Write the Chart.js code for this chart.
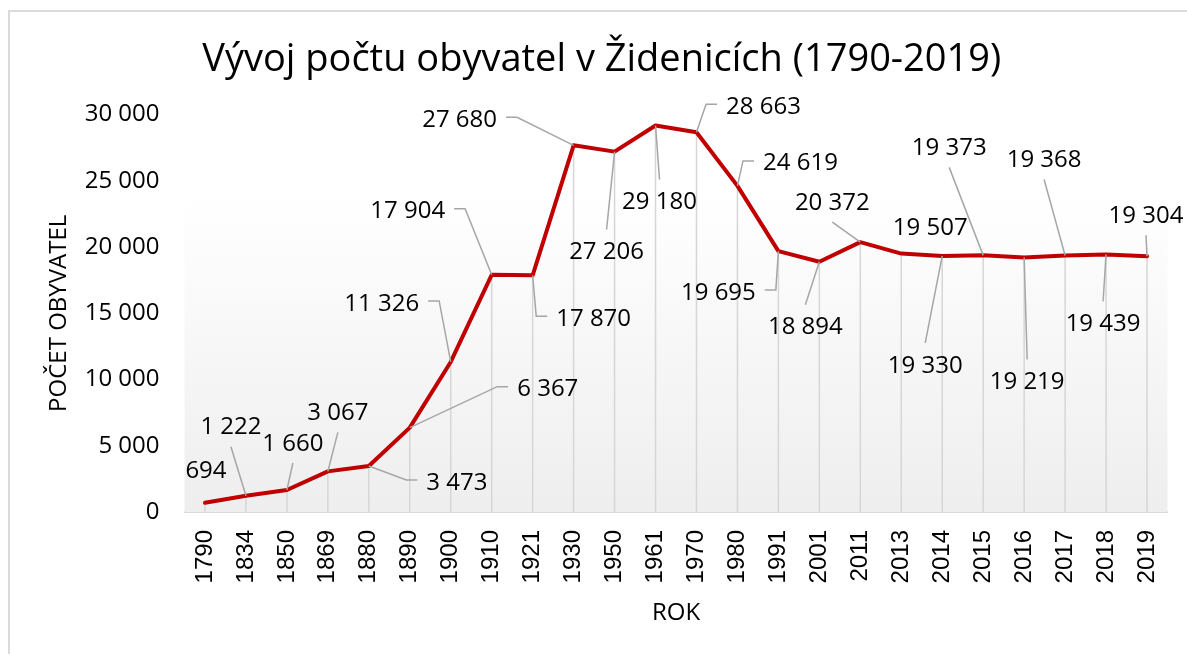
<!DOCTYPE html>
<html><head><meta charset="utf-8">
<script src="https://cdn.jsdelivr.net/npm/chart.js@4"></script>
<style>
html,body{margin:0;padding:0;background:#fff;overflow:hidden}
#wrap{position:relative;width:1187px;height:654px;overflow:hidden}
#frame{position:absolute;left:8px;top:10px;width:1300px;height:800px;border:2px solid #dadada;box-sizing:border-box}
canvas{position:absolute;left:0;top:0}
</style></head><body>
<div id="wrap"><div id="frame"></div><canvas id="c" width="1187" height="654"></canvas></div>
<script>
// ---- data ----
const titleText = 'Vývoj počtu obyvatel v Židenicích (1790-2019)';
const xTitle = 'ROK';
const yTitle = 'POČET OBYVATEL';
const years = ['1790','1834','1850','1869','1880','1890','1900','1910','1921','1930','1950','1961','1970','1980','1991','2001','2011','2013','2014','2015','2016','2017','2018','2019'];
const population = [694,1222,1660,3067,3473,6367,11326,17904,17870,27680,27206,29180,28663,24619,19695,18894,20372,19507,19330,19373,19219,19368,19439,19304];
const yMin = 0, yMax = 30000, yStep = 5000;
// label placement offsets (px, relative to each point) - styling only
const labelOffsets = [[1,-33],[-15,-70],[6,-48],[10,-60],[88,15],[138,-40],[-69,-60],[-84,-65],[61,42],[-114,-27],[-8,99],[4,75],[67,-27],[63,-24],[-60,40],[-14,64],[-28,-41],[29,-27],[-17,108],[-34,-109],[3,123],[-21,-97],[-3,68],[-1,-42]];

function fmt(v){ return String(v).replace(/\B(?=(\d{3})+(?!\d))/g, ' '); }

const FONT = 'Open Sans';
const bgPlugin = {
  id: 'bg',
  beforeDatasetsDraw(chart){
    const {ctx, chartArea:{left,top,right,bottom}} = chart;
    ctx.save();
    const g = ctx.createLinearGradient(0, top, 0, bottom);
    g.addColorStop(0, '#ffffff');
    g.addColorStop(0.2, '#ffffff');
    g.addColorStop(1, '#eeeeee');
    ctx.fillStyle = g;
    ctx.fillRect(left, top, right-left, bottom-top);
    // drop lines
    const meta = chart.getDatasetMeta(0);
    ctx.strokeStyle = '#d6d6d6';
    ctx.lineWidth = 1.5;
    meta.data.forEach(p => {
      ctx.beginPath();
      ctx.moveTo(p.x, p.y);
      ctx.lineTo(p.x, bottom);
      ctx.stroke();
    });
    ctx.restore();
  }
};
const labelPlugin = {
  id: 'lbls',
  afterDatasetsDraw(chart){
    const {ctx} = chart;
    const meta = chart.getDatasetMeta(0);
    const size = 24;
    ctx.save();
    ctx.font = size + 'px "' + FONT + '"';
    ctx.textAlign = 'center';
    ctx.textBaseline = 'alphabetic';
    meta.data.forEach((p, i) => {
      const txt = fmt(population[i]);
      const [dx, dy] = labelOffsets[i];
      const cx = p.x + dx, cy = p.y + dy;
      const w = ctx.measureText(txt).width;
      const hh = 9;
      ctx.strokeStyle = '#a6a6a6';
      ctx.lineWidth = 1.5;
      if (Math.abs(dx) > w/2 + 10) {
        const s = dx > 0 ? -1 : 1;
        const x1 = cx + s*(w/2 + 9), x2 = cx + s*(w/2 + 20), ly = cy - 1;
        ctx.beginPath();
        ctx.moveTo(x1, ly); ctx.lineTo(x2, ly); ctx.lineTo(p.x, p.y);
        ctx.stroke();
      } else {
        const sy = dy < 0 ? cy + hh + 12 : cy - hh - 12;
        if (Math.abs(p.y - sy) > 14 && Math.sign(p.y - sy) === Math.sign(-dy)) {
          ctx.beginPath();
          ctx.moveTo(cx, sy); ctx.lineTo(p.x, p.y);
          ctx.stroke();
        }
      }
      ctx.fillStyle = '#000';
      ctx.fillText(txt, cx, cy + 0.357*size);
    });
    ctx.restore();
  }
};

new Chart(document.getElementById('c'), {
  type: 'line',
  data: {
    labels: years,
    datasets: [{
      data: population,
      borderColor: '#C00000',
      borderWidth: 4,
      pointRadius: 0,
      tension: 0,
      fill: false,
      borderJoinStyle: 'round',
      borderCapStyle: 'round'
    }]
  },
  options: {
    responsive: false,
    devicePixelRatio: 1,
    animation: false,
    layout: { padding: { left: 36, right: 19.5, top: 0, bottom: 0 } },
    plugins: {
      legend: { display: false },
      tooltip: { enabled: false },
      title: {
        display: true, text: titleText, color: '#000',
        font: { family: FONT, size: 38, weight: 'normal' },
        padding: { top: 37, bottom: 32 }
      }
    },
    scales: {
      x: {
        type: 'category',
        offset: true,
        grid: { display: false, drawTicks: false },
        border: { display: true, color: '#d9d9d9', width: 2 },
        ticks: {
          autoSkip: false, minRotation: 90, maxRotation: 90, padding: 18,
          color: '#000', font: { family: 'Liberation Sans', size: 24 }
        },
        title: {
          display: true, text: xTitle, color: '#000',
          font: { family: FONT, size: 24 }, padding: { top: 0, bottom: 26 }
        },
        afterFit(s){ s.height = 142; s.paddingLeft = 0; s.paddingRight = 0; }
      },
      y: {
        min: yMin, max: yMax,
        grid: { display: false, drawTicks: false },
        border: { display: false },
        ticks: {
          stepSize: yStep, padding: 25, color: '#000',
          font: { family: FONT, size: 24 },
          callback: v => fmt(v)
        },
        title: {
          display: true, text: yTitle, color: '#000',
          font: { family: FONT, size: 24 }, padding: { top: 9, bottom: 0 }
        },
        afterFit(s){ s.width = 148.5; }
      }
    }
  },
  plugins: [bgPlugin, labelPlugin]
});
</script>
</body></html>
